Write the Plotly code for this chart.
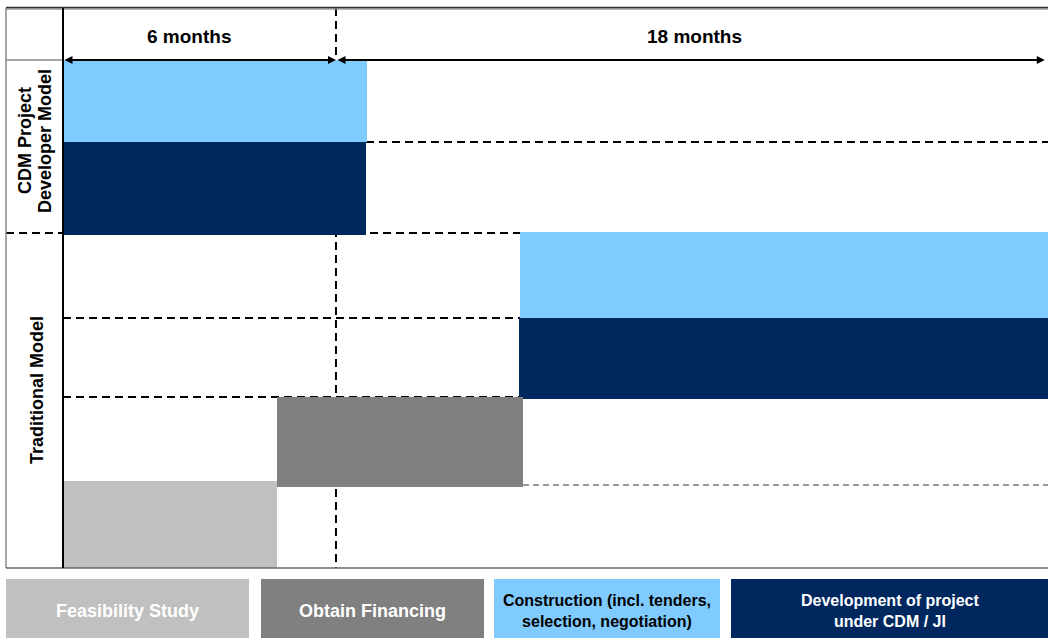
import plotly.graph_objects as go

# ---- phases and their colours ----
phases = [
    "Feasibility Study",
    "Obtain Financing",
    "Construction (incl. tenders,<br>selection, negotiation)",
    "Development of project<br>under CDM / JI",
]
phase_colors = ["#C0C0C0", "#808080", "#7FCBFF", "#00285F"]
phase_text_colors = ["#FFFFFF", "#FFFFFF", "#000000", "#FFFFFF"]

# ---- schedule, in months from project start ----
cdm_phase = [2, 3]
cdm_start = [0.0, 0.0]
cdm_end = [6.68, 6.66]

trad_phase = [2, 3, 1, 0]
trad_start = [10.04, 10.02, 4.70, 0.0]
trad_end = [21.7, 21.7, 10.11, 4.70]

# ---- header spans ----
span_labels = ["6 months", "18 months"]
span_start = [0.0, 6.0]
span_end = [6.0, 21.58]

model_label_lines = [["CDM Project", "Developer Model"], ["Traditional Model"]]

# ---- layout geometry (pixels) ----
W, H = 1048, 638
PLOT_L, PLOT_R, PLOT_T, PLOT_B = 63, 1048, 60, 568
X_MAX = 21.65
Y_MAX = PLOT_B - PLOT_T  # lane coordinates measured from plot top

# lanes (top, bottom) for each bar
cdm_lanes = [(0, 82), (82, 175)]
trad_lanes = [(172, 258), (258, 339), (337, 427), (421, 508)]

# text placement
span_label_x = [189, 694]
model_label_pos = [[(25, 141), (45, 141)], [(37, 390)]]

FONT = "Arial, 'Liberation Sans', sans-serif"


def px(x):
    return x / W


def py(y):
    return 1 - y / H


fig = go.Figure()

# bars
bars = list(zip(cdm_phase, cdm_start, cdm_end, cdm_lanes)) + \
    list(zip(trad_phase, trad_start, trad_end, trad_lanes))
for ph, s, e, (top, bot) in bars:
    fig.add_trace(go.Bar(
        orientation="h",
        base=[s],
        x=[e - s],
        y=[(top + bot) / 2],
        width=[bot - top],
        marker=dict(color=phase_colors[ph], line=dict(width=0)),
        hoverinfo="skip",
        showlegend=False,
    ))

shapes = []
GRID_DASH = "8px,5px"

# dashed lane separators (drawn beneath bars)
shapes.append(dict(type="line", layer="below", xref="x", yref="y",
                   x0=cdm_end[1], x1=X_MAX, y0=cdm_lanes[0][1], y1=cdm_lanes[0][1],
                   line=dict(color="black", width=2, dash=GRID_DASH)))
shapes.append(dict(type="line", layer="below", xref="paper", yref="y",
                   x0=px(6), x1=1, y0=173, y1=173,
                   line=dict(color="black", width=2, dash=GRID_DASH)))
for yv in (trad_lanes[1][0], trad_lanes[2][0]):
    shapes.append(dict(type="line", layer="below", xref="x", yref="y",
                       x0=0, x1=X_MAX, y0=yv, y1=yv,
                       line=dict(color="black", width=2, dash=GRID_DASH)))
shapes.append(dict(type="line", layer="below", xref="x", yref="y",
                   x0=0, x1=X_MAX, y0=425, y1=425,
                   line=dict(color="#333333", width=1, dash="6px,4px")))

# vertical dashed divider at the end of the first span
shapes.append(dict(type="line", layer="below", xref="x", yref="paper",
                   x0=span_end[0], x1=span_end[0], y0=py(8), y1=py(PLOT_B),
                   line=dict(color="black", width=2, dash=GRID_DASH)))

# frame
shapes += [
    dict(type="line", xref="paper", yref="paper", x0=px(6), x1=1, y0=py(9), y1=py(9),
         line=dict(color="#999999", width=1.5)),
    dict(type="line", xref="paper", yref="paper", x0=px(6), x1=1, y0=py(7.5), y1=py(7.5),
         line=dict(color="#333333", width=1.5)),
    dict(type="line", xref="paper", yref="paper", x0=px(6), x1=px(6), y0=py(8), y1=py(PLOT_B),
         line=dict(color="#888888", width=1.5)),
    dict(type="line", xref="paper", yref="paper", x0=px(6), x1=1, y0=py(PLOT_B), y1=py(PLOT_B),
         line=dict(color="#666666", width=1.5)),
    dict(type="line", xref="paper", yref="paper", x0=px(6), x1=px(PLOT_L), y0=py(PLOT_T), y1=py(PLOT_T),
         line=dict(color="#888888", width=1.5)),
    dict(type="line", xref="paper", yref="paper", x0=px(PLOT_L), x1=px(PLOT_L), y0=py(8), y1=py(PLOT_B),
         line=dict(color="black", width=2)),
]

annotations = []

# header span arrows and labels
for lab, s, e, lx in zip(span_labels, span_start, span_end, span_label_x):
    annotations.append(dict(
        xref="x", yref="y", axref="x", ayref="y",
        x=e, y=0, ax=s, ay=0, text="", showarrow=True,
        arrowhead=2, startarrowhead=2, arrowside="end+start",
        arrowsize=0.8, startarrowsize=0.8, arrowwidth=2, arrowcolor="black",
        standoff=0, startstandoff=0,
    ))
    annotations.append(dict(
        xref="paper", yref="paper", x=px(lx), y=py(36.5), text=f"<b>{lab}</b>",
        showarrow=False, xanchor="center", yanchor="middle",
        font=dict(family=FONT, size=19, color="black"),
    ))

# model labels (rotated)
for lines, positions in zip(model_label_lines, model_label_pos):
    for line, (lx, ly) in zip(lines, positions):
        annotations.append(dict(
            xref="paper", yref="paper", x=px(lx), y=py(ly), text=f"<b>{line}</b>",
            textangle=-90, showarrow=False, xanchor="center", yanchor="middle",
            font=dict(family=FONT, size=18, color="black"),
        ))

# legend boxes
legend_boxes = [(6, 249), (261, 484), (494, 720), (731, 1052)]
for i, (x0, x1) in enumerate(legend_boxes):
    shapes.append(dict(type="rect", xref="paper", yref="paper",
                       x0=px(x0), x1=px(x1), y0=py(579), y1=py(645),
                       fillcolor=phase_colors[i], line=dict(width=0)))
    two_line = "<br>" in phases[i]
    annotations.append(dict(
        xref="paper", yref="paper", x=px((x0 + min(x1, W)) / 2), y=py(611),
        text=f"<b>{phases[i]}</b>", showarrow=False,
        xanchor="center", yanchor="middle",
        font=dict(family=FONT, size=16 if two_line else 18, color=phase_text_colors[i]),
    ))

fig.update_layout(
    width=W, height=H, autosize=False,
    margin=dict(l=0, r=0, t=0, b=0),
    paper_bgcolor="white", plot_bgcolor="white",
    barmode="overlay", bargap=0,
    shapes=shapes, annotations=annotations,
    xaxis=dict(domain=[px(PLOT_L), 1], range=[0, X_MAX], visible=False, fixedrange=True),
    yaxis=dict(domain=[py(PLOT_B), py(PLOT_T)], range=[Y_MAX, 0], visible=False, fixedrange=True),
    showlegend=False,
)

fig.write_html("out.html", config={"displayModeBar": False})
